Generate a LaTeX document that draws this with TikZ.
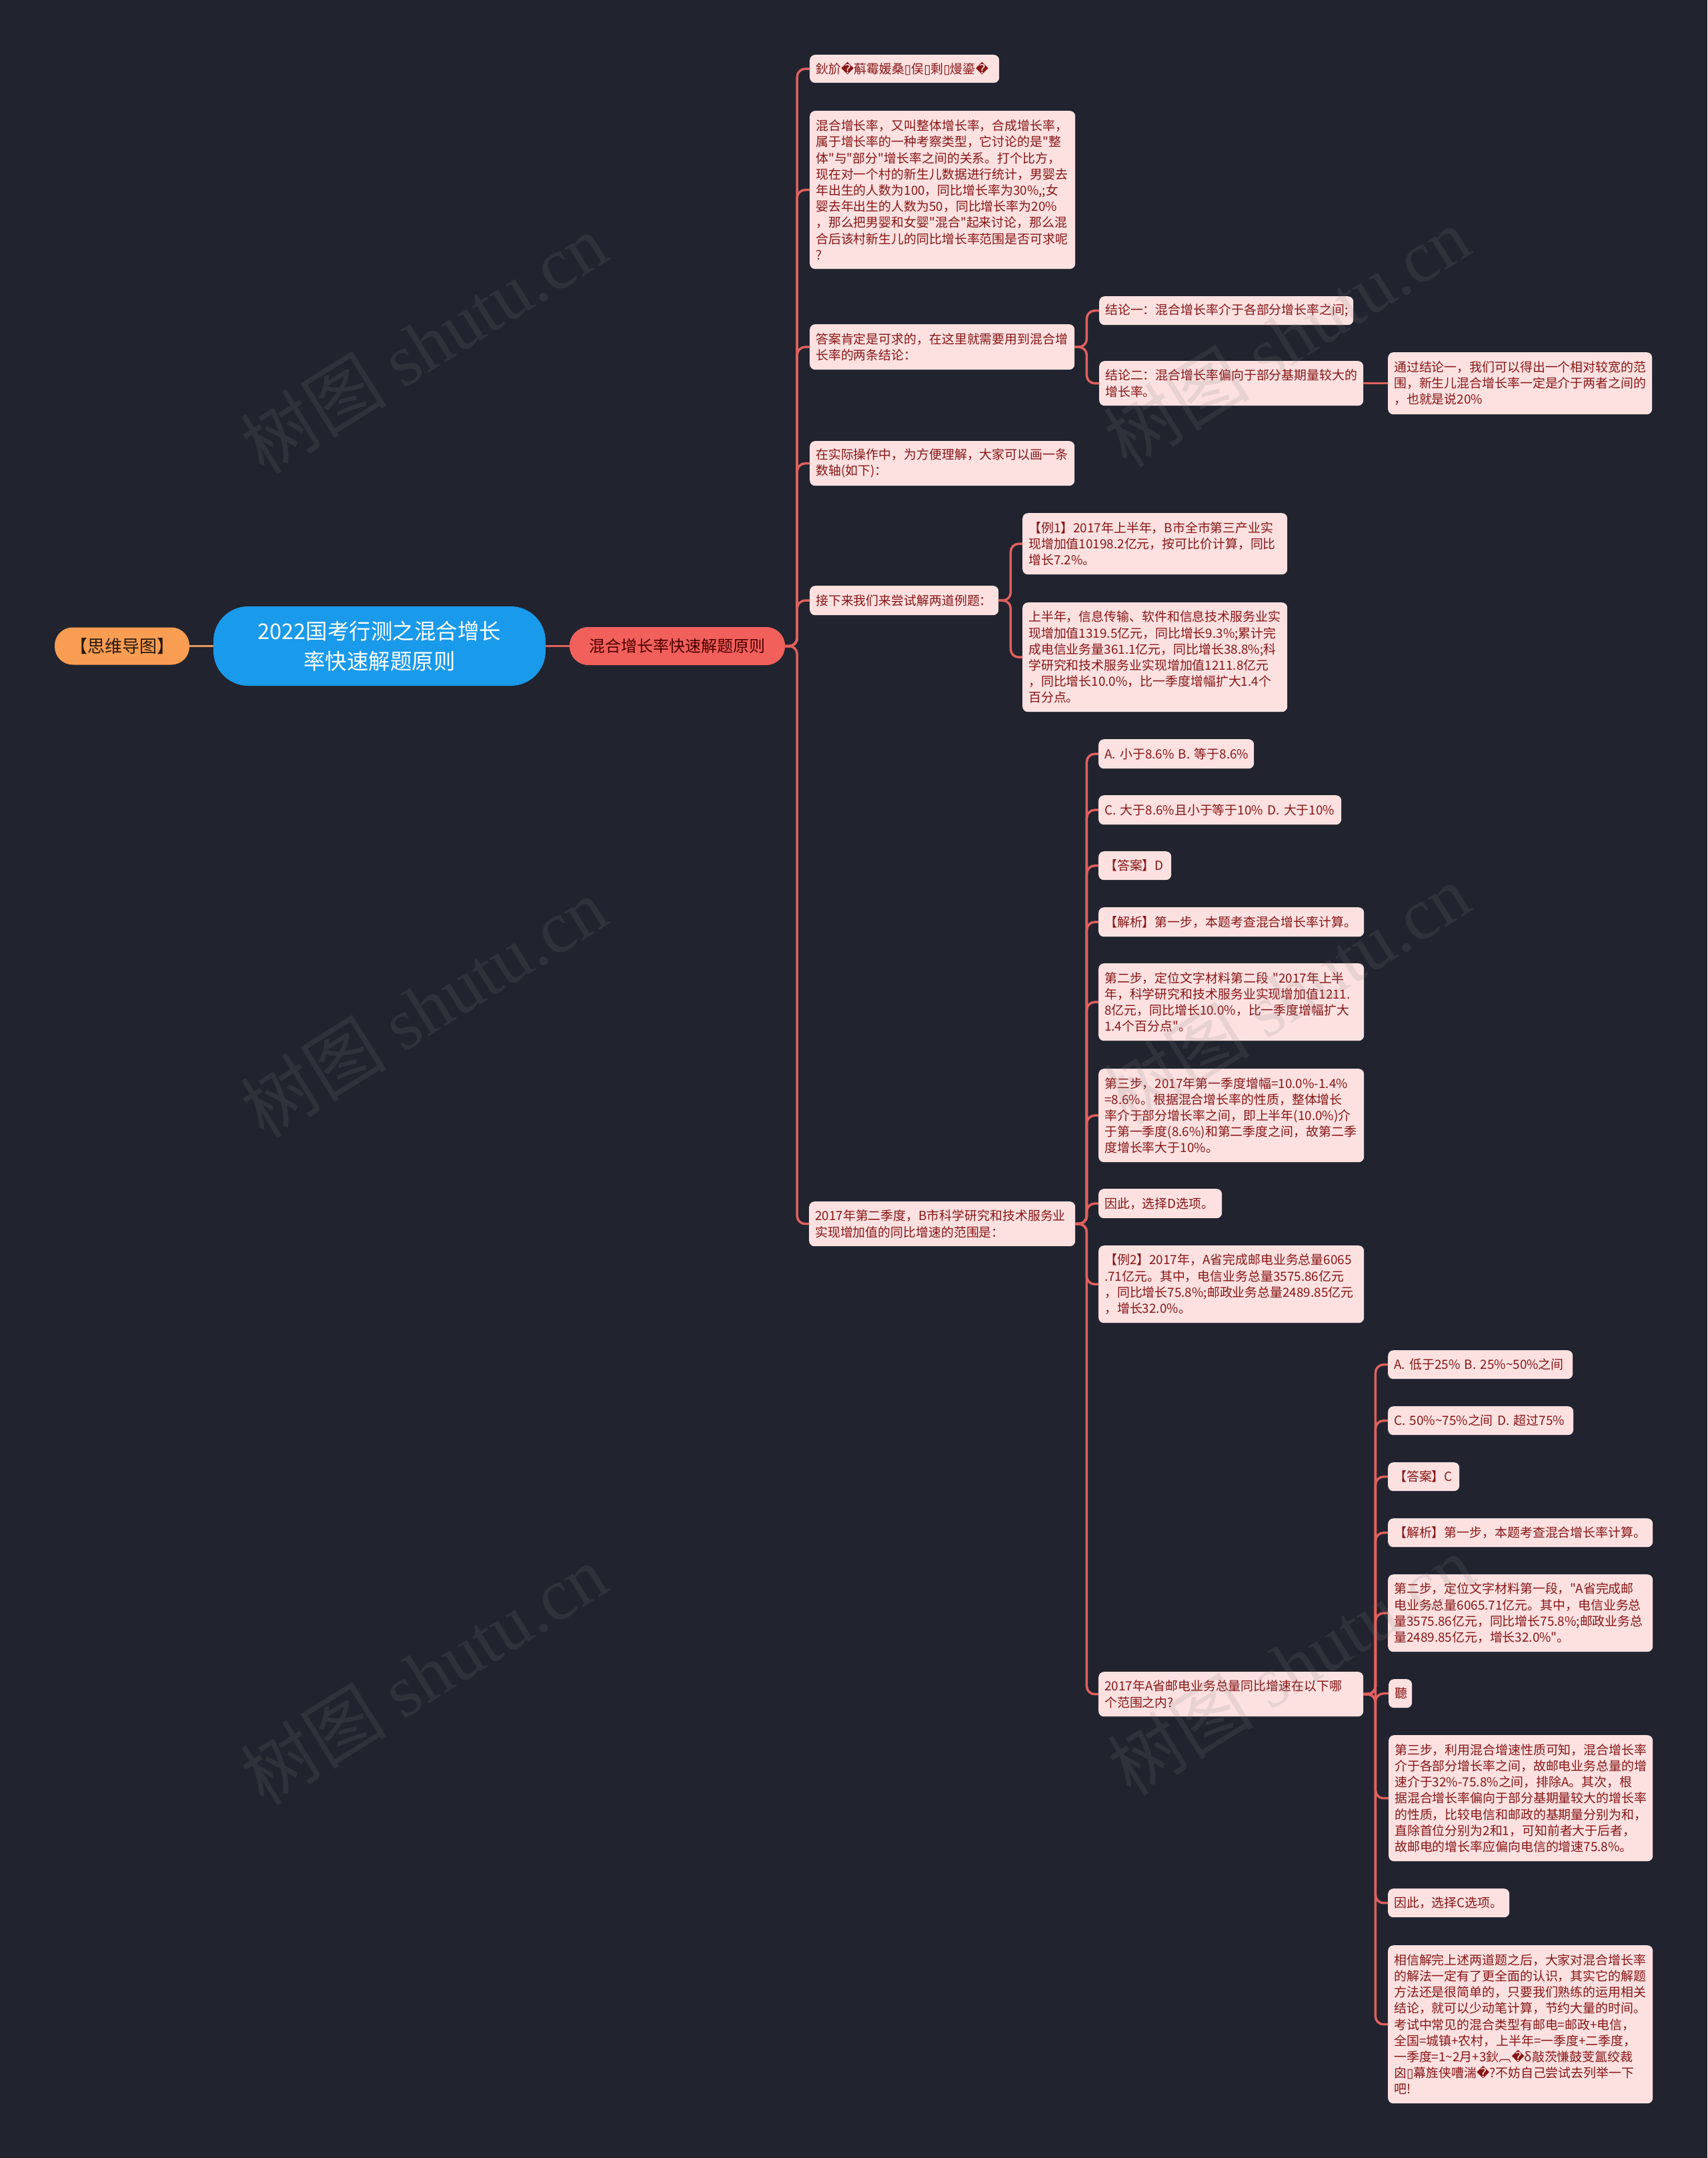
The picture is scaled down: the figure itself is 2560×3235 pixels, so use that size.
\documentclass[tikz,border=0pt]{standalone}
\usepackage{fontspec}
\setmainfont{Noto Sans CJK SC}
\newfontfamily\cjkplain{Noto Sans CJK SC}
\newfontfamily\dvfont{DejaVu Sans}
\newfontfamily\wmserif{Liberation Serif}
\newcommand\rep{{\dvfont\char"FFFD}}
\newcommand\bx{{\dvfont\char"25AF}}
\newcommand\tld{\char"7E\relax}
\newcommand\q{\char"22\relax}
\definecolor{bg}{HTML}{21242E}
\definecolor{leaffill}{HTML}{FDE1E1}
\definecolor{leaftext}{HTML}{861616}
\definecolor{linecol}{HTML}{E0605E}
\definecolor{orangeline}{HTML}{E39A5E}
\definecolor{rootblue}{HTML}{1A9AEB}
\definecolor{mainred}{HTML}{F2605C}
\definecolor{mmorange}{HTML}{F99D52}
\newcommand\leaf[7]{\node[leaf,text width=#4pt,minimum height=#5pt] (#1) at (#2,#3) {#7};}
\begin{document}
\begin{tikzpicture}[x=1pt,y=-1pt,
  leaf/.style={fill=leaffill, text=leaftext, rounded corners=8pt, inner xsep=9pt, inner ysep=0pt, align=left, anchor=north west, font=\cjkplain\fontsize{18.9}{24.2}\selectfont},
  conn/.style={draw=linecol, line width=3.5pt, rounded corners=12pt},
  wm/.style={text=gray, opacity=0.16, rotate=32, font=\fontsize{110}{110}\selectfont}
]
\fill[bg] (0,0) rectangle (2560,3235);
\useasboundingbox (0,0) rectangle (2560,3235);

% root level
\node[fill=mmorange, text=black!80!brown, rounded corners=27pt, minimum width=202pt, minimum height=56pt, inner sep=0pt, font=\fontsize{26}{30}\selectfont] (mm) at (183,968.5) {【思维导图】};
\node[fill=rootblue, text=white, rounded corners=52pt, minimum width=498pt, minimum height=119pt, inner sep=0pt, align=center, font=\fontsize{32.5}{45}\selectfont] (root) at (569,968.5) {2022国考行测之混合增长\\率快速解题原则};
\node[fill=mainred, text=black!70!red, rounded corners=28pt, minimum width=323pt, minimum height=57pt, inner sep=0pt, font=\fontsize{24}{28}\selectfont] (main) at (1015.5,968.5) {混合增长率快速解题原则};

% level 2
\leaf{n1}{1214}{82}{266}{42}{}{鈥斺\rep 蔛霉媛桑\bx 俣\bx 剩\bx 熳鎏\rep}
\leaf{n2}{1214}{166}{380}{237}{}{混合增长率，又叫整体增长率，合成增长率，\\属于增长率的一种考察类型，它讨论的是\q 整\\体\q 与\q 部分\q 增长率之间的关系。打个比方，\\现在对一个村的新生儿数据进行统计，男婴去\\年出生的人数为100，同比增长率为30\%,;女\\婴去年出生的人数为50，同比增长率为20\%\\，那么把男婴和女婴\q 混合\q 起来讨论，那么混\\合后该村新生儿的同比增长率范围是否可求呢\\?}
\leaf{n3}{1214}{486}{379}{68}{}{答案肯定是可求的，在这里就需要用到混合增\\长率的两条结论：}
\leaf{n4}{1214}{661}{379}{67}{}{在实际操作中，为方便理解，大家可以画一条\\数轴(如下)：}
\leaf{n5}{1214}{878}{265}{44}{}{接下来我们来尝试解两道例题：}
\leaf{n6}{1213}{1801}{381}{67}{}{2017年第二季度，B市科学研究和技术服务业\\实现增加值的同比增速的范围是：}

% level 3 under n3
\leaf{c1}{1648}{444}{363}{43}{}{结论一：混合增长率介于各部分增长率之间;}
\leaf{c2}{1648}{541}{378}{67}{}{结论二：混合增长率偏向于部分基期量较大的\\增长率。}
\leaf{c3}{2081}{528}{378}{93}{}{通过结论一，我们可以得出一个相对较宽的范\\围，新生儿混合增长率一定是介于两者之间的\\，也就是说20\%}

% level 3 under n5
\leaf{e1}{1533}{769}{379}{92}{}{【例1】2017年上半年，B市全市第三产业实\\现增加值10198.2亿元，按可比价计算，同比\\增长7.2\%。}
\leaf{e2}{1533}{903}{379}{164}{}{上半年，信息传输、软件和信息技术服务业实\\现增加值1319.5亿元，同比增长9.3\%;累计完\\成电信业务量361.1亿元，同比增长38.8\%;科\\学研究和技术服务业实现增加值1211.8亿元\\，同比增长10.0\%，比一季度增幅扩大1.4个\\百分点。}

% level 3 under n6
\leaf{o1}{1647}{1108}{215}{44}{}{A.~小于8.6\%~B.~等于8.6\%}
\leaf{o2}{1647}{1192}{346}{44}{}{C.~大于8.6\%且小于等于10\%~D.~大于10\%}
\leaf{o3}{1647}{1276}{91}{43}{}{【答案】D}
\leaf{o4}{1647}{1360}{380}{44}{}{【解析】第一步，本题考查混合增长率计算。}
\leaf{o5}{1647}{1444}{380}{116}{}{第二步，定位文字材料第二段~\q 2017年上半\\年，科学研究和技术服务业实现增加值1211.\\8亿元，同比增长10.0\%，比一季度增幅扩大\\1.4个百分点\q 。}
\leaf{o6}{1647}{1602}{380}{140}{}{第三步，2017年第一季度增幅=10.0\%-1.4\%\\=8.6\%。根据混合增长率的性质，整体增长\\率介于部分增长率之间，即上半年(10.0\%)介\\于第一季度(8.6\%)和第二季度之间，故第二季\\度增长率大于10\%。}
\leaf{o7}{1647}{1782}{167}{44}{}{因此，选择D选项。}
\leaf{o8}{1647}{1867}{380}{116}{}{【例2】2017年，A省完成邮电业务总量6065\\.71亿元。其中，电信业务总量3575.86亿元\\，同比增长75.8\%;邮政业务总量2489.85亿元\\，增长32.0\%。}
\leaf{o9}{1647}{2506}{379}{67}{}{2017年A省邮电业务总量同比增速在以下哪\\个范围之内?}

% level 4 under o9
\leaf{p1}{2081}{2024}{259}{43}{}{A.~低于25\%~B.~25\%\tld 50\%之间}
\leaf{p2}{2081}{2108}{260}{43}{}{C.~50\%\tld 75\%之间~D.~超过75\%}
\leaf{p3}{2081}{2192}{89}{43}{}{【答案】C}
\leaf{p4}{2081}{2276}{379}{43}{}{【解析】第一步，本题考查混合增长率计算。}
\leaf{p5}{2081}{2360}{379}{116}{}{第二步，定位文字材料第一段，\q A省完成邮\\电业务总量6065.71亿元。其中，电信业务总\\量3575.86亿元，同比增长75.8\%;邮政业务总\\量2489.85亿元，增长32.0\%\q 。}
\leaf{p6}{2082}{2517}{17}{43}{}{聽}
\leaf{p7}{2082}{2601}{378}{189}{}{第三步，利用混合增速性质可知，混合增长率\\介于各部分增长率之间，故邮电业务总量的增\\速介于32\%-75.8\%之间，排除A。其次，根\\据混合增长率偏向于部分基期量较大的增长率\\的性质，比较电信和邮政的基期量分别为和，\\直除首位分别为2和1，可知前者大于后者，\\故邮电的增长率应偏向电信的增速75.8\%。}
\leaf{p8}{2081}{2831}{164}{43}{}{因此，选择C选项。}
\leaf{p9}{2081}{2916}{379}{237}{}{相信解完上述两道题之后，大家对混合增长率\\的解法一定有了更全面的认识，其实它的解题\\方法还是很简单的，只要我们熟练的运用相关\\结论，就可以少动笔计算，节约大量的时间。\\考试中常见的混合类型有邮电=邮政+电信，\\全国=城镇+农村，上半年=一季度+二季度，\\一季度=1\tld 2月+3鈥︹\rep δ敲茨慊鼓芰氲绞裁\\囟\bx 幕旌侠嘈湍\rep ?不妨自己尝试去列举一下\\吧!}

% connectors
\draw[draw=orangeline, line width=3.5pt] (mm.east) -- (root.west);
\draw[conn] (root.east) -- (main.west);
\foreach \c in {n1,n2,n3,n4,n5,n6} \draw[conn] (main.east) -- ++(18,0) |- (\c.west);
\foreach \c in {c1,c2} \draw[conn] (n3.east) -- ++(18,0) |- (\c.west);
\draw[conn] (c2.east) -- (c3.west);
\foreach \c in {e1,e2} \draw[conn] (n5.east) -- ++(18,0) |- (\c.west);
\foreach \c in {o1,o2,o3,o4,o5,o6,o7,o8,o9} \draw[conn] (n6.east) -- ++(17,0) |- (\c.west);
\foreach \c in {p1,p2,p3,p4,p5,p6,p7,p8,p9} \draw[conn] (o9.east) -- ++(18,0) |- (\c.west);

% watermarks
\foreach \p in {(635,515),(635,1510),(635,2510),(1929,505),(1929,1490),(1935,2496)}
  \node[wm] at \p {树图~{\wmserif shutu.cn}};
\end{tikzpicture}
\end{document}
